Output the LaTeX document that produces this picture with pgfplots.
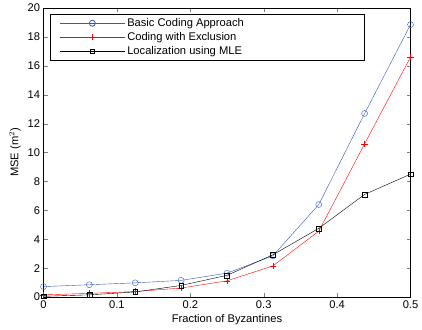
\documentclass[border=0pt]{standalone}
\usepackage{pgfplots}
\pgfplotsset{compat=1.18}
\usepackage{fontspec}
\setmainfont{Liberation Sans}
\definecolor{mblue}{RGB}{55,85,195}
\begin{document}
\begin{tikzpicture}
\begin{axis}[
  name=ax,
  scale only axis,
  width=367bp, height=289bp,
  xmin=0, xmax=0.5, ymin=0, ymax=20,
  xtick={0,0.1,0.2,0.3,0.4,0.5},
  xticklabels={0,0.1,0.2,0.3,0.4,0.5},
  ytick={0,2,4,6,8,10,12,14,16,18,20},
  tick align=inside,
  tick pos=both,
  major tick length=4bp,
  axis line style={line width=0.7pt},
  /pgf/number format/assume math mode=true,
  tick label style={font=\fontsize{11.2}{13}\selectfont},
  label style={font=\fontsize{11.2}{13}\selectfont},
  xlabel={Fraction of Byzantines},
  ylabel={MSE (m$^2$)},
  xlabel style={yshift=1bp},
  ylabel style={yshift=0bp},
  legend style={at={(0.018,0.979)}, anchor=north west, font=\fontsize{11.2}{13}\selectfont, draw=black, line width=0.8pt, cells={anchor=west}, inner xsep=9pt, inner ysep=2pt, row sep=0.5pt},
  legend cell align=left,
  legend image code/.code={\draw[#1] (0cm,0cm) -- (65bp,0cm); \draw[#1, only marks] plot coordinates {(32.5bp,0cm)};},
]
\addplot[color=mblue, mark=o, mark size=3pt] coordinates {
(0,0.72) (0.0625,0.85) (0.125,0.98) (0.1875,1.15) (0.25,1.65) (0.3125,2.85) (0.375,6.4) (0.4375,12.7) (0.5,18.85)};
\addlegendentry{\makebox[226bp][l]{Basic Coding Approach}}
\addplot[color=red, mark=+, mark size=3.2pt] coordinates {
(0,0.15) (0.0625,0.25) (0.125,0.38) (0.1875,0.62) (0.25,1.12) (0.3125,2.15) (0.375,4.55) (0.4375,10.6) (0.5,16.6)};
\addlegendentry{Coding with Exclusion}
\addplot[color=black, mark=square, mark size=2.4pt] coordinates {
(0,0.05) (0.0625,0.15) (0.125,0.35) (0.1875,0.8) (0.25,1.5) (0.3125,2.92) (0.375,4.75) (0.4375,7.1) (0.5,8.5)};
\addlegendentry{Localization using MLE}
\end{axis}
\pgfresetboundingbox
\useasboundingbox ([xshift=-43.5bp,yshift=-32bp]ax.south west) rectangle ([xshift=11.5bp,yshift=8bp]ax.north east);
\end{tikzpicture}
\end{document}
